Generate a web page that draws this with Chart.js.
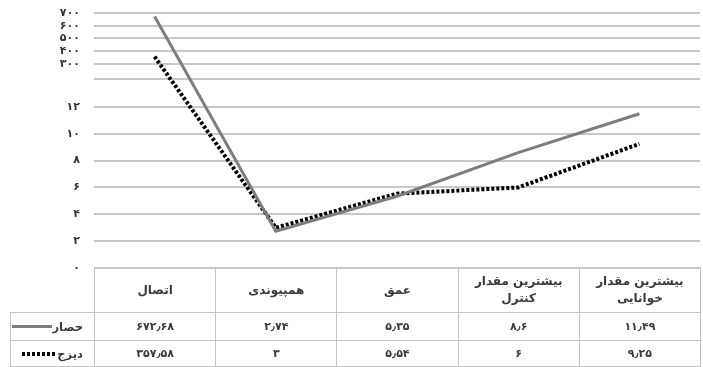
<!DOCTYPE html>
<html>
<head>
<meta charset="utf-8">
<script src="https://cdn.jsdelivr.net/npm/chart.js@4.4.1/dist/chart.umd.min.js"></script>
<style>
  html, body { margin: 0; padding: 0; background: #fff; }
  #wrap { position: relative; width: 703px; height: 367px; font-family: "DejaVu Sans", sans-serif; }
  #tbl { position: absolute; border-collapse: collapse; table-layout: fixed; color: #3a3a3a; font-size: 11px; font-weight: bold; }
  #tbl td { border: 1.5px solid #c4c4c4; text-align: center; padding: 0; }
  #tbl td.corner { border-top: none; border-left: none; border-bottom: none; }
  #tbl tr.head td { height: 44px; line-height: 17px; font-size: 12px; }
  #tbl tr.row1 td { height: 27px; }
  #tbl tr.row2 td { height: 25px; }
  .leg { display: flex; justify-content: flex-end; align-items: center; padding-right: 11px; font-size: 11.5px; }
  .sw { width: 40px; height: 3px; }
</style>
</head>
<body>
<div id="wrap">
  <canvas id="myChart" width="703" height="367"></canvas>
  <table id="tbl"></table>
</div>
<script>
const categories = ['اتصال', 'همپیوندی', 'عمق', ['بیشترین مقدار', 'کنترل'], ['بیشترین مقدار', 'خوانایی']];
const seriesNames = ['حصار', 'دیزج'];
const hesarValues = [672.68, 2.74, 5.35, 8.6, 11.49];
const dizajValues = [357.58, 3, 5.54, 6, 9.25];
const hesarLabels = ['672.68', '2.74', '5.35', '8.6', '11.49'];
const dizajLabels = ['357.58', '3', '5.54', '6', '9.25'];
const lowTicks = [0, 2, 4, 6, 8, 10, 12];
const highTicks = [300, 400, 500, 600, 700];
const unlabeledTicks = [200];

// broken y axis: 0..12 kept as is, 300..700 squeezed above it
const LOW_TOP = 12, HIGH_START = 15.2, HIGH_END = 19.0;
function axisPos(v) {
    if (v <= LOW_TOP) return v;
    if (v < 300) return LOW_TOP + (v - LOW_TOP) / (300 - LOW_TOP) * (HIGH_START - LOW_TOP);
    return HIGH_START + (v - 300) / 400 * (HIGH_END - HIGH_START);
}

function toFa(s) {
    return String(s).replace(/\d/g, d => '۰۱۲۳۴۵۶۷۸۹'[d]).replace('.', '٫');
}

const tickMap = new Map();
lowTicks.concat(highTicks).forEach(v => tickMap.set(axisPos(v).toFixed(4), v));

const GRID_COLOR = '#c8c8c8';
const GRID_WIDTH = 2;

// extra grid line(s) with no label, drawn through the y scale
const extraGrid = {
    id: 'extraGrid',
    beforeDatasetsDraw(chart) {
        const { ctx, chartArea, scales } = chart;
        ctx.save();
        ctx.strokeStyle = GRID_COLOR;
        ctx.lineWidth = GRID_WIDTH;
        unlabeledTicks.forEach(v => {
            const y = Math.round(scales.y.getPixelForValue(axisPos(v)));
            ctx.beginPath();
            ctx.moveTo(chartArea.left, y);
            ctx.lineTo(chartArea.right, y);
            ctx.stroke();
        });
        ctx.restore();
    }
};

document.addEventListener('DOMContentLoaded', function() {
    const ctx = document.getElementById('myChart').getContext('2d');

    const myChart = new Chart(ctx, {
        type: 'line',
        data: {
            labels: categories,
            datasets: [{
                label: seriesNames[0],
                data: hesarValues.map(axisPos),
                borderColor: '#7d7d7d',
                borderWidth: 3,
                pointRadius: 0,
                tension: 0
            }, {
                label: seriesNames[1],
                data: dizajValues.map(axisPos),
                borderColor: '#000000',
                borderWidth: 4,
                borderDash: [3, 2],
                borderCapStyle: 'butt',
                pointRadius: 0,
                tension: 0
            }]
        },
        options: {
            responsive: false,
            animation: false,
            layout: { padding: { top: 13, right: 3, bottom: 99, left: 0 } },
            plugins: {
                legend: { display: false },
                tooltip: { enabled: false }
            },
            scales: {
                x: {
                    display: false,
                    offset: true
                },
                y: {
                    min: 0,
                    max: HIGH_END,
                    afterFit: function(scale) {
                        scale.width = 94;
                        scale.paddingTop = 0;
                        scale.paddingBottom = 0;
                    },
                    afterBuildTicks: function(scale) {
                        scale.ticks = lowTicks.concat(highTicks).map(v => ({ value: axisPos(v) }));
                    },
                    border: { display: false },
                    grid: { color: GRID_COLOR, lineWidth: GRID_WIDTH, drawTicks: false, drawOnChartArea: true },
                    ticks: {
                        autoSkip: false,
                        padding: 14,
                        color: '#333333',
                        font: { family: 'DejaVu Sans', size: 11, weight: 'bold' },
                        callback: function(value) {
                            const v = tickMap.get(Number(value).toFixed(4));
                            return v === undefined ? '' : toFa(v);
                        }
                    }
                }
            }
        },
        plugins: [extraGrid]
    });

    // data table under the plot, columns aligned with the category scale
    const area = myChart.chartArea;
    const colW = area.width / categories.length;
    const legLeft = 10;
    const tbl = document.getElementById('tbl');
    tbl.style.left = legLeft + 'px';
    tbl.style.top = (area.bottom - 1) + 'px';
    tbl.style.width = (area.right - legLeft + 1) + 'px';

    let html = '<colgroup><col style="width:' + (area.left - legLeft) + 'px">';
    categories.forEach(() => { html += '<col style="width:' + colW + 'px">'; });
    html += '</colgroup>';
    html += '<tr class="head"><td class="corner"></td>';
    categories.forEach(c => { html += '<td>' + (Array.isArray(c) ? c.join('<br>') : c) + '</td>'; });
    html += '</tr>';
    const swatches = [
        'background:#7d7d7d;height:3px',
        'background:repeating-linear-gradient(to right,#000 0 3px,transparent 3px 5px);height:4px;width:35px'
    ];
    [hesarLabels, dizajLabels].forEach((vals, i) => {
        html += '<tr class="row' + (i + 1) + '"><td><div class="leg"><span class="sw" style="' + swatches[i] + '"></span><span>' + seriesNames[i] + '</span></div></td>';
        vals.forEach(v => { html += '<td>' + toFa(v) + '</td>'; });
        html += '</tr>';
    });
    tbl.innerHTML = html;
});
</script>
</body>
</html>
